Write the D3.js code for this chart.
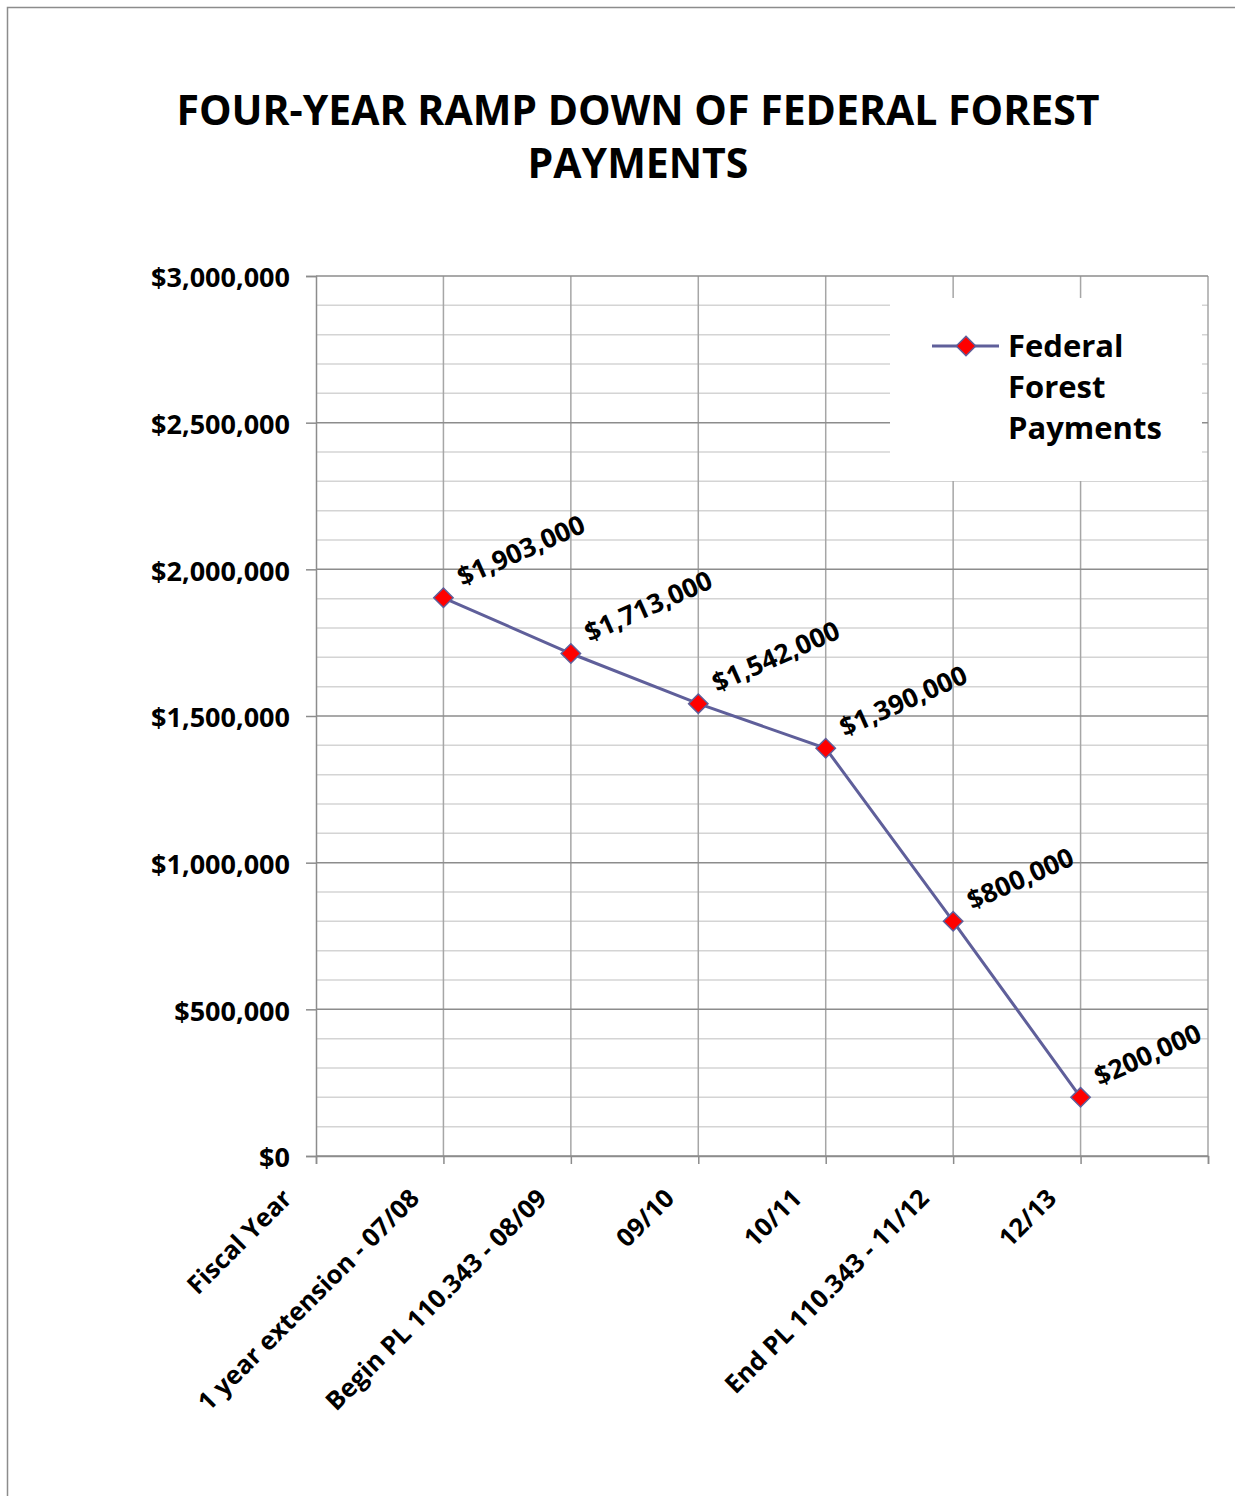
<!DOCTYPE html>
<html>
<head>
<meta charset="utf-8">
<script src="https://cdn.jsdelivr.net/npm/d3@7"></script>
<style>
  body { margin: 0; background: #fff; }
  svg { display: block; font-family: "Open Sans", sans-serif; }
</style>
</head>
<body>
<svg id="chart"></svg>
<script>
const categories = ['Fiscal Year', '1 year extension - 07/08', 'Begin PL 110.343 - 08/09', '09/10', '10/11', 'End PL 110.343 - 11/12', '12/13', ''];
const payments = [null, 1903000, 1713000, 1542000, 1390000, 800000, 200000, null];
const yTicks = [0, 500000, 1000000, 1500000, 2000000, 2500000, 3000000];
const seriesName = ['Federal', 'Forest', 'Payments'];
const titleLines = ['FOUR-YEAR RAMP DOWN OF FEDERAL FOREST', 'PAYMENTS'];

const W = 1235, H = 1496;
const margin = { top: 276, right: 27, bottom: 340, left: 316 };
const width = W - margin.left - margin.right;
const height = H - margin.top - margin.bottom;

const svgRoot = d3.select('#chart').attr('width', W).attr('height', H);

// outer chart border
svgRoot.append('rect')
  .attr('x', 7.5).attr('y', 7.5)
  .attr('width', W + 20).attr('height', H + 20)
  .attr('fill', 'none').attr('stroke', '#8c8c8c').attr('stroke-width', 1.5);

svgRoot.append('g')
  .selectAll('text')
  .data(titleLines)
  .enter().append('text')
  .attr('x', 638)
  .attr('y', (d, i) => 125 + i * 53)
  .attr('text-anchor', 'middle')
  .attr('font-size', 41)
  .attr('font-weight', 'bold')
  .text(d => d);

const svg = svgRoot.append('g')
  .attr('transform', `translate(${margin.left},${margin.top})`);

const x = d3.scalePoint().domain(categories.map((d, i) => i)).range([0, width]);
const y = d3.scaleLinear().domain([0, 3000000]).range([height, 0]);

// minor gridlines
svg.append('g')
  .selectAll('line')
  .data(d3.range(100000, 3000001, 100000).filter(v => v % 500000 !== 0))
  .enter().append('line')
  .attr('x1', 0).attr('x2', width)
  .attr('y1', d => y(d)).attr('y2', d => y(d))
  .attr('stroke', '#d4d4d4').attr('stroke-width', 1.5);

// vertical gridlines
svg.append('g')
  .selectAll('line')
  .data(categories.map((d, i) => i).slice(1))
  .enter().append('line')
  .attr('x1', d => x(d)).attr('x2', d => x(d))
  .attr('y1', 0).attr('y2', height)
  .attr('stroke', '#a6a6a6').attr('stroke-width', 1.5);

// major gridlines
svg.append('g')
  .selectAll('line')
  .data(yTicks)
  .enter().append('line')
  .attr('x1', 0).attr('x2', width)
  .attr('y1', d => y(d)).attr('y2', d => y(d))
  .attr('stroke', '#8c8c8c').attr('stroke-width', 1.5);

// y axis
const yAxis = svg.append('g')
  .call(d3.axisLeft(y).tickValues(yTicks).tickSize(10).tickPadding(16)
    .tickFormat(d => '$' + d3.format(',')(d)));
yAxis.select('.domain').attr('stroke', '#8c8c8c').attr('stroke-width', 1.5);
yAxis.selectAll('.tick line').attr('stroke', '#8c8c8c').attr('stroke-width', 1.5);
yAxis.selectAll('text')
  .attr('font-family', '"Open Sans", sans-serif')
  .attr('font-size', 27)
  .attr('font-weight', 'bold')
  .attr('fill', '#000')
  .attr('dy', '0.4em');

// x axis
const xAxis = svg.append('g')
  .attr('transform', `translate(0,${height})`)
  .call(d3.axisBottom(x).tickSize(8).tickFormat(i => categories[i]));
xAxis.select('.domain').attr('stroke', '#8c8c8c').attr('stroke-width', 1.5);
xAxis.selectAll('.tick line').attr('stroke', '#8c8c8c').attr('stroke-width', 1.5);
xAxis.selectAll('text')
  .attr('font-family', '"Open Sans", sans-serif')
  .attr('font-size', 25.5)
  .attr('font-weight', 'bold')
  .attr('fill', '#000')
  .attr('text-anchor', 'end')
  .attr('dy', 0)
  .attr('y', 0)
  .attr('transform', 'translate(-23,44) rotate(-45)');

// legend box
const legend = svg.append('g').attr('transform', `translate(${890 - margin.left},${298 - margin.top})`);
legend.append('rect')
  .attr('width', 312).attr('height', 183)
  .attr('fill', '#fff');

const lineColor = '#5f5f9a';
const points = payments.map((v, i) => ({ i, v })).filter(d => d.v !== null);

svg.append('path')
  .datum(points)
  .attr('fill', 'none')
  .attr('stroke', lineColor)
  .attr('stroke-width', 3)
  .attr('d', d3.line().x(d => x(d.i)).y(d => y(d.v)));

const diamond = d3.symbol().type(d3.symbolDiamond2).size(240);

svg.append('g')
  .selectAll('path')
  .data(points)
  .enter().append('path')
  .attr('d', diamond)
  .attr('transform', d => `translate(${x(d.i)},${y(d.v)})`)
  .attr('fill', '#ff0000')
  .attr('stroke', lineColor)
  .attr('stroke-width', 1.5);

svg.append('g')
  .selectAll('text')
  .data(points)
  .enter().append('text')
  .attr('transform', d => `translate(${x(d.i) + 19},${y(d.v) - 11}) rotate(-24)`)
  .attr('font-size', 26.5)
  .attr('font-weight', 'bold')
  .text(d => '$' + d3.format(',')(d.v));

legend.append('line')
  .attr('x1', 42).attr('x2', 109)
  .attr('y1', 48).attr('y2', 48)
  .attr('stroke', lineColor).attr('stroke-width', 3);
legend.append('path')
  .attr('d', diamond)
  .attr('transform', 'translate(76,48)')
  .attr('fill', '#ff0000')
  .attr('stroke', lineColor)
  .attr('stroke-width', 1.5);
legend.append('g')
  .selectAll('text')
  .data(seriesName)
  .enter().append('text')
  .attr('x', 118)
  .attr('y', (d, i) => 59 + i * 41)
  .attr('font-size', 31)
  .attr('font-weight', 'bold')
  .text(d => d);
</script>
</body>
</html>
